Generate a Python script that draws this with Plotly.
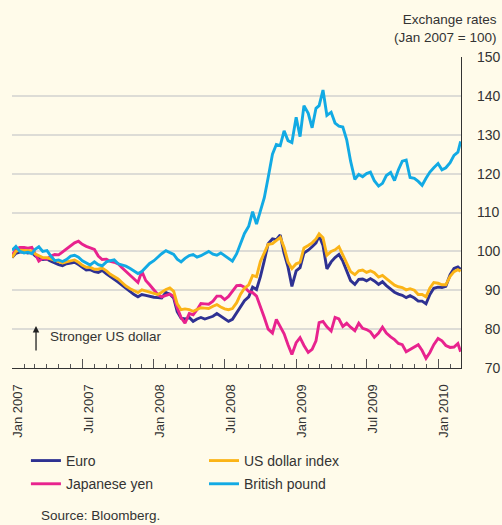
import plotly.graph_objects as go

# ---- data ----
months = [(2007 + i // 12, i % 12 + 1) for i in range(38)]
dates = [f"{y}-{m:02d}-{d:02d}" for (y, m) in months for d in (1, 11, 21)] + ["2010-02-28"]

euro = [98.4, 99.5, 99.8, 99.8, 99.6, 99.8, 98.9, 98.2, 97.9, 98.0,
        97.5, 97.0, 96.6, 96.3, 96.8, 97.0, 97.2, 96.6, 95.8, 95.2,
        95.3, 94.8, 94.6, 95.1, 94.2, 93.4, 92.8, 92.1, 91.3, 90.5,
        89.7, 88.9, 88.3, 88.9, 88.7, 88.4, 88.2, 88.1, 88.0, 89.4,
        89.0, 88.0, 84.5, 82.8, 82.6, 83.0, 82.0, 82.6, 83.0, 82.6,
        82.9, 83.3, 84.0, 83.3, 82.5, 82.0, 82.5, 84.2, 85.5, 87.3,
        88.3, 90.8, 90.2, 93.5, 97.6, 102.0, 103.2, 103.0, 104.2, 99.5,
        96.0, 91.0, 95.0, 95.8, 99.6, 100.3, 101.2, 102.2, 104.0, 101.5,
        95.5, 97.3, 98.4, 99.2, 97.5, 95.2, 92.5, 91.5, 92.8, 92.9,
        92.4, 93.0, 92.4, 91.5, 92.2, 91.2, 90.3, 89.5, 89.0, 88.7,
        88.1, 88.6, 88.0, 87.2, 87.2, 86.5, 88.9, 90.5, 90.8, 90.7,
        91.0, 94.0, 95.6, 96.0, 95.4]

usd = [98.4, 100.0, 100.3, 100.2, 100.0, 100.1, 99.4, 98.8, 98.4, 98.4,
       98.0, 97.6, 97.2, 97.0, 97.3, 97.5, 97.8, 97.2, 96.4, 95.9,
       95.9, 95.4, 95.4, 95.7, 95.0, 94.1, 93.5, 92.9, 92.0, 91.1,
       90.4, 89.8, 89.4, 90.1, 89.8, 89.4, 89.0, 88.9, 89.5, 90.2,
       90.6, 89.7, 86.5, 85.0, 85.2, 85.0, 84.6, 85.0, 85.5, 85.4,
       85.3, 85.9, 86.3, 85.7, 85.2, 85.0, 85.3, 86.8, 89.0, 90.5,
       91.4, 93.8, 93.5, 97.4, 99.5, 101.8, 102.0, 102.8, 103.6, 101.0,
       97.3, 95.6, 96.8, 97.2, 100.9, 101.5, 102.2, 103.2, 104.5, 103.5,
       99.0, 100.0, 100.4, 101.2, 99.2, 97.0, 94.8, 94.0, 95.0, 95.2,
       94.6, 95.0, 94.5, 93.4, 93.8, 93.0, 92.2, 91.3, 90.9, 90.7,
       90.1, 90.4, 90.0, 88.9, 88.9, 88.3, 90.6, 92.0, 91.8, 91.4,
       91.4, 93.6, 94.8, 95.3, 94.9]

yen = [99.0, 100.5, 101.0, 101.0, 100.8, 101.0, 99.5, 97.5, 98.2, 98.0,
       98.8, 99.2, 99.1, 99.8, 100.5, 101.5, 102.2, 102.6, 101.8, 101.3,
       101.0, 100.5, 98.8, 97.9, 98.0, 97.4, 97.2, 96.8, 95.8, 94.9,
       94.0, 93.0, 92.0, 94.9, 92.5, 91.4, 90.0, 88.9, 88.3, 88.6,
       89.0, 88.4, 85.5, 83.0, 81.5, 84.0, 83.7, 85.0, 86.6, 86.5,
       86.4, 87.2, 88.5, 88.5, 87.6, 88.4, 89.6, 91.2, 91.3, 90.8,
       89.7, 89.4, 88.5, 85.9, 83.0, 80.0, 79.0, 82.5, 80.7, 78.8,
       76.0, 73.5, 76.5, 77.8, 75.8, 74.0, 74.8, 77.0, 81.7, 82.0,
       80.6, 79.5, 83.0, 82.6, 80.7, 81.5, 80.5, 79.6, 81.5, 80.2,
       79.9, 79.3, 77.9, 79.0, 80.5, 79.0, 78.0, 77.3, 76.3, 76.0,
       74.2, 74.8, 75.5, 76.0, 74.5, 72.5, 74.0, 76.0, 77.6, 77.0,
       75.8, 75.3, 75.4, 76.3, 74.2]

gbp = [100.3, 101.3, 100.0, 99.6, 99.8, 99.4, 100.5, 101.2, 100.0, 100.2,
       98.8, 97.6, 97.8, 97.4, 97.9, 98.8, 99.0, 98.5, 97.6, 97.0,
       96.5, 97.3, 96.6, 96.3, 97.3, 97.6, 97.8, 96.8, 96.5, 96.2,
       95.6, 95.0, 94.3, 94.8, 95.9, 96.9, 97.6, 98.6, 99.4, 100.2,
       99.8, 99.2, 98.0, 97.3, 98.2, 98.9, 99.2, 98.5, 98.9, 99.5,
       100.0, 99.3, 99.0, 99.6, 98.9, 98.2, 97.5, 99.4, 102.2, 104.6,
       106.5, 110.2, 107.0, 110.5, 113.8, 119.0, 125.0, 127.5, 127.2, 131.0,
       128.5, 128.0, 134.5, 129.5, 137.5, 135.5, 131.8, 136.8, 137.5, 141.5,
       135.0, 135.8, 133.0, 132.2, 132.0, 128.7, 123.2, 118.5, 119.8, 119.2,
       120.0, 120.4, 118.2, 116.8, 117.5, 119.5, 120.3, 118.2, 121.0, 123.2,
       123.5, 119.0, 118.8, 118.0, 117.0, 118.8, 120.4, 121.5, 122.6, 121.0,
       121.5, 122.8, 124.7, 125.5, 128.3]

x_tickvals = ["2007-01-01", "2007-07-01", "2008-01-01", "2008-07-01",
              "2009-01-01", "2009-07-01", "2010-01-01"]
x_ticktext = ["Jan 2007", "Jul 2007", "Jan 2008", "Jul 2008",
              "Jan 2009", "Jul 2009", "Jan 2010"]
y_tickvals = [70, 80, 90, 100, 110, 120, 130, 140, 150]
y_ticktext = ["\u200770", "\u200780", "\u200790", "100", "110", "120", "130", "140", "150"]
grid_vals = [80, 90, 100, 110, 120, 130, 140]

BG = "#FFFBEA"
FONT = "Liberation Sans, Arial, sans-serif"
TXT = "#333333"

fig = go.Figure()
series = [
    ("Euro", euro, "#2E3192", "legend"),
    ("Japanese yen", yen, "#E8238E", "legend"),
    ("US dollar index", usd, "#FBB417", "legend2"),
    ("British pound", gbp, "#12AAE4", "legend2"),
]
for name, vals, col, lg in series:
    fig.add_trace(go.Scatter(x=dates, y=vals, name=name, mode="lines",
                             line=dict(color=col, width=2.9), legend=lg,
                             legendgroup=name))
# empty trace so that the grid-only overlay axis is created
fig.add_trace(go.Scatter(x=[], y=[], yaxis="y2", showlegend=False, hoverinfo="skip"))

fig.update_layout(
    width=502, height=525,
    margin=dict(l=12, r=41, t=57, b=157),
    paper_bgcolor=BG, plot_bgcolor=BG,
    font=dict(family=FONT, size=13.5, color=TXT),
    showlegend=True,
    xaxis=dict(
        type="date", range=["2007-01-01", "2010-03-01"], automargin=False,
        tickvals=x_tickvals, ticktext=x_ticktext, tickangle=-90,
        ticks="inside", ticklen=9, tickwidth=1, tickcolor="#555555",
        minor=dict(dtick="M1", tick0="2007-01-01", ticks="inside", ticklen=4,
                   tickcolor="#555555", tickwidth=1, showgrid=False),
        showgrid=False, zeroline=False,
        showline=True, linecolor="#333333", linewidth=1.3,
        tickfont=dict(family="Liberation Sans Narrow, Arial Narrow, Liberation Sans, sans-serif",
                      size=13, color=TXT),
        ticklabelshift=6, ticklabelstandoff=10,
    ),
    yaxis=dict(
        side="right", range=[70, 150], automargin=False,
        tickvals=y_tickvals, ticktext=y_ticktext,
        ticks="", showgrid=False, zeroline=False,
        showline=True, linecolor="#333333", linewidth=1.3,
        tickfont=dict(size=14, color=TXT), ticklabelstandoff=12,
    ),
    yaxis2=dict(
        overlaying="y", matches="y", side="right", automargin=False,
        tickvals=grid_vals, showticklabels=False, ticks="",
        showgrid=True, gridcolor="#DDDCD6", gridwidth=2,
        showline=False, zeroline=False,
    ),
    legend=dict(orientation="v", x=0.031, xanchor="left", y=-0.2475, yanchor="top",
                bgcolor="rgba(0,0,0,0)", font=dict(size=14, color=TXT),
                tracegroupgap=2, itemclick=False, itemdoubleclick=False),
    legend2=dict(orientation="v", x=0.4276, xanchor="left", y=-0.2475, yanchor="top",
                 bgcolor="rgba(0,0,0,0)", font=dict(size=14, color=TXT),
                 tracegroupgap=2, itemclick=False, itemdoubleclick=False),
    annotations=[
        dict(text="Exchange rates<br>(Jan 2007 = 100)", xref="paper", yref="paper",
             x=1.0846, y=1.15, xanchor="right", yanchor="top", align="right",
             showarrow=False, font=dict(size=13.5, color=TXT)),
        dict(text="Stronger US dollar", xref="paper", yref="paper",
             x=0.0802, y=0.0997, xanchor="left", yanchor="middle",
             showarrow=False, font=dict(size=13.5, color=TXT)),
        dict(text="", xref="paper", yref="paper", x=0.0535, y=0.135,
             ax=0, ay=26, showarrow=True, arrowhead=2, arrowsize=1,
             arrowwidth=1.3, arrowcolor="#222222"),
        dict(text="Source: Bloomberg.", xref="paper", yref="paper",
             x=0.060, y=-0.475, xanchor="left", yanchor="middle",
             showarrow=False, font=dict(size=13.5, color=TXT)),
    ],
)

fig.write_html(
    "out.html",
    config={"displayModeBar": False},
    post_script="document.body.style.margin='0';document.body.style.overflow='hidden';"
                "document.documentElement.style.overflow='hidden';",
)
